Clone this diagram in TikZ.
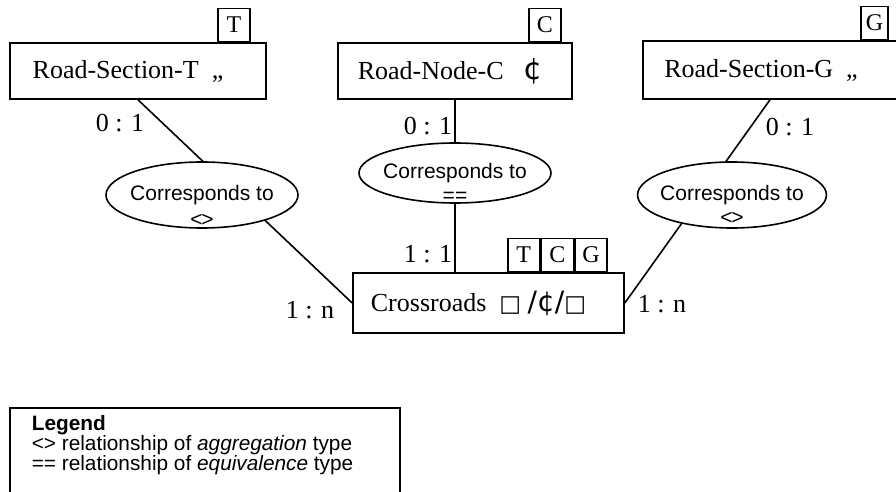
\documentclass[tikz,border=0pt]{standalone}
\usepackage{fontspec}
\setmainfont{Liberation Serif}
\setsansfont{Liberation Sans}
\newfontfamily\symfont{DejaVu Sans}
\usepackage{tikz}
\usetikzlibrary{shapes.geometric}

\begin{document}
\begin{tikzpicture}[x=0.5pt, y=-0.5pt, line width=0.8pt,
    entity/.style={draw, inner sep=0pt, font=\fontsize{13}{15}\selectfont},
    tagbox/.style={draw, minimum width=16pt, minimum height=16.5pt, inner sep=0pt, font=\fontsize{12}{14}\selectfont},
    rel/.style={draw, ellipse, fill=white, inner sep=-2.5pt, font=\sffamily\fontsize{10.5}{12}\selectfont},
    relsym/.style={inner sep=0pt, font=\sffamily\fontsize{10.5}{12}\selectfont},
    card/.style={inner sep=0pt, font=\fontsize{13}{15}\selectfont}]
            \useasboundingbox (0,0) rectangle (896,492);
            % Entities
            \node[entity, minimum width=128pt, minimum height=28pt] (roadT) at (138,71) {Road-Section-T\ \ „\rule{10pt}{0pt}};
            \node[entity, minimum width=117pt, minimum height=28pt] (roadC) at (455,71) {Road-Node-C\ \ \ {\symfont\fontsize{15}{15}\selectfont ¢}\rule{5pt}{0pt}};
            \node[entity, minimum width=127pt, minimum height=29pt] (roadG) at (770,70) {Road-Section-G\ \ „\rule{9pt}{0pt}};
            \node[entity, minimum width=135.5pt, minimum height=30pt] (cross) at (488.5,303)
                {Crossroads\ \ {\symfont\fontsize{11.5}{11.5}\selectfont □} {\symfont\fontsize{14}{14}\selectfont /¢/}{\symfont\fontsize{11.5}{11.5}\selectfont □}\rule{10pt}{0pt}};
            % Tags
            \node[tagbox, anchor=south east] (tagT) at ([xshift=-8pt]roadT.north east) {T};
            \node[tagbox, anchor=south east] (tagC) at ([xshift=-5.5pt]roadC.north east) {C};
            \node[tagbox, anchor=south east, minimum width=13.5pt] (tagG) at ([xshift=-4.5pt]roadG.north east) {G};
            \node[tagbox, anchor=south east] (crossG) at ([xshift=-8.5pt]cross.north east) {G};
            \node[tagbox, anchor=east] (crossC) at (crossG.west) {C};
            \node[tagbox, anchor=east] (crossT) at (crossC.west) {T};
            % Links
            \draw (roadT.south) -- (cross.west);
            \draw (roadC.south) -- (roadC.south |- cross.north);
            \draw (roadG.south) -- (cross.east);
            % Relationships
            \node[rel, minimum width=96pt, minimum height=33pt] (relT) at (202,195) {Corresponds to};
            \node[relsym] (relTsym) at ([yshift=4pt]relT.south) {<\kern-0.6pt>};
            \node[rel, minimum width=96pt, minimum height=30pt] (relC) at (455,173) {Corresponds to};
            \node[relsym] (relCsym) at ([yshift=3pt]relC.south) {==};
            \node[rel, minimum width=91pt, minimum height=33pt] (relG) at (732,195) {Corresponds to};
            \node[relsym] (relGsym) at ([yshift=5pt]relG.south) {<\kern-0.6pt>};
            % Cardinalities
            \node[card] (cardT) at (120,123) {0 : 1};
            \node[card] (cardC) at (428,126) {0 : 1};
            \node[card] (cardG) at (790,127) {0 : 1};
            \node[card] (cardX) at (428,254) {1 : 1};
            \node[card] (cardXT) at (310,310) {1 : n};
            \node[card] (cardXG) at (662,304) {1 : n};
            % Legend
            \draw (10,492) |- (400,408) -- (400,492);
            \node[anchor=north west, inner sep=0pt, align=left, font=\sffamily\fontsize{10.4}{10}\selectfont] (legend) at (31,415)
                {\textbf{Legend}\\<> relationship of \textit{aggregation} type\\== relationship of \textit{equivalence} type};
\end{tikzpicture}
\end{document}
